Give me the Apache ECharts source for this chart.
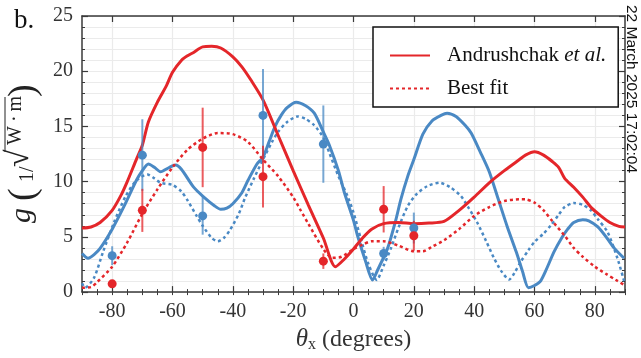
<!DOCTYPE html>
<html><head><meta charset="utf-8">
<script src="https://cdn.jsdelivr.net/npm/echarts@6/dist/echarts.min.js"></script>
<style>html,body{margin:0;padding:0;background:#fff}#c{width:641px;height:358px}</style>
</head><body><div id="c"></div>
<script>
// ---- data ----
const xTickLabels = [-80, -60, -40, -20, 0, 20, 40, 60, 80];
const yTickLabels = [0, 5, 10, 15, 20, 25];

const andrRedX = [-90,-87,-84,-80,-77,-75,-72,-70,-68,-65,-62,-60,-57,-55,-53,-50,-47,-44,-40,-37,-34,-30,-25,-20,-15,-10,-6,-3,0,3,6,10,15,20,25,30,35,40,45,50,55,57,60,63,66,68,70,73,76,79,82,85,88,90];
const andrRedY = [5.8,5.9,6.3,7.4,8.8,10.0,12.0,13.3,15.4,17.2,18.7,19.9,21.0,21.4,21.7,22.2,22.25,22.1,21.3,20.4,19.2,17.4,14.2,11.0,7.9,4.9,2.3,3.0,3.9,4.9,5.7,6.2,6.3,6.2,6.25,6.4,7.4,8.6,9.9,11.0,12.0,12.4,12.7,12.4,11.8,11.3,10.3,9.5,8.6,7.6,6.9,6.3,5.95,5.9];

const fitRedX = [-90,-87,-85,-80,-75,-70,-65,-60,-55,-50,-45,-40,-35,-30,-25,-20,-17.5,-15,-10,-7,-4,0,3,6,10,15,20,23,26,30,35,40,45,50,55,57,60,63,66,70,73,76,80,84,87,90];
const fitRedY = [0.4,0.45,0.9,2.3,4.5,7.1,9.3,11.3,12.9,13.9,14.4,14.3,13.6,12.0,10.5,8.6,7.4,6.2,3.9,3.1,3.2,3.9,4.3,4.6,4.6,4.2,3.7,3.7,4.1,4.7,5.7,6.9,7.7,8.25,8.4,8.4,8.1,7.4,6.4,5.1,4.0,3.2,2.3,1.6,1.1,0.6];

const andrBlueX = [-90,-88,-86,-84,-80,-76,-72,-70,-68,-66,-64,-61,-59,-57,-53,-50,-46,-44,-42,-40,-37,-35,-32,-30,-28,-26,-24,-22,-19,-16,-13,-10,-8,-5,-3,0,1.3,4,6.3,8,11.3,14,15.7,18,20,23,26,29,31,34,37,39,42,45,48,51,54,56,58,60,62,64,66.5,69,71,73,76,78,81,84,86.5,89.7];
const andrBlueY = [3.5,3.07,3.4,3.96,5.7,7.8,10.1,11.0,11.6,11.3,10.9,11.3,11.5,11.1,9.5,8.7,7.8,7.5,7.6,8.0,9.0,10.1,11.6,12.2,13.6,15.0,16.0,16.7,17.2,16.9,16.2,14.5,13.3,11.0,9.0,6.5,5.15,2.8,1.1,2.0,3.96,6.5,8.4,10.5,12.0,14.3,15.5,16.0,16.2,15.9,15.1,14.4,12.7,10.9,8.4,5.9,3.6,1.9,0.4,0.6,1.0,2.1,3.66,4.9,5.7,6.3,6.55,6.45,5.9,4.9,3.96,3.06];

const fitBlueX = [-90,-89,-86,-83,-79.4,-75.5,-72,-68.3,-66,-64,-60,-57,-55,-52,-50,-47,-45,-43,-41,-38,-36,-33,-30,-27,-25,-22,-18.5,-16,-13,-10,-8,-5,-2,0,2.4,5,7.7,10,12.4,15,18,21,24.5,28.5,32,35.6,38,41,44,46.6,49,51.6,53.5,55.5,58,60,63,65.4,68,70,73,76,78.7,81,84.2,87.5,89.7];
const fitBlueY = [0.8,0.4,1.3,3.66,6.3,8.7,10.1,10.65,10.3,9.9,9.7,9.1,8.3,6.9,6.0,4.9,4.6,4.9,5.6,7.1,8.5,10.3,12.0,13.6,14.5,15.4,15.9,15.7,15.1,14.0,12.6,10.5,8.7,7.2,4.85,2.5,1.1,2.4,3.96,5.9,7.8,8.9,9.6,9.9,9.5,8.7,7.7,6.3,4.6,3.06,1.9,1.13,1.8,2.77,3.8,4.55,5.3,6.04,7.0,7.7,8.06,7.9,7.4,6.6,5.45,3.06,1.0];

const blueX = [-80, -70, -50, -30, -10, 10, 20];
const blueY = [3.3, 12.4, 6.9, 16.0, 13.4, 3.5, 5.8];
const blueErr = [0.85, 3.25, 1.7, 4.2, 3.5, 0.6, 1.4];

const redX = [-80, -70, -50, -30, -10, 10, 20];
const redY = [0.75, 7.4, 13.1, 10.45, 2.8, 7.5, 5.1];
const redErr = [0, 1.95, 3.6, 2.8, 0.7, 2.1, 1.35];

const legendNames = ['Andrushchak et al.', 'Best fit'];
const timeStamp = '22 March 2025 17:02:04';

// ---- styles ----
const RED = '#e4262a';
const BLUE = '#4a89c4';
const SERIF = '"Liberation Serif", "DejaVu Serif", serif';
const AXIS = '#3a3a3a';
const GRIDC = '#ebebeb';

const zip = (xs, ys) => xs.map((x, i) => [x, ys[i]]);
const errData = (xs, ys, es) => xs.map((x, i) => [x, ys[i] - es[i], ys[i] + es[i]]);

function errSeries(xs, ys, es, color) {
  return {
    type: 'custom', xAxisIndex: 0, yAxisIndex: 0, z: 4,
    data: errData(xs, ys, es),
    renderItem: function (params, api) {
      const a = api.coord([api.value(0), api.value(1)]);
      const b = api.coord([api.value(0), api.value(2)]);
      return { type: 'line', shape: { x1: a[0], y1: a[1], x2: b[0], y2: b[1] },
        style: { stroke: color, lineWidth: 2, opacity: 0.75 } };
    }
  };
}

function lineSeries(name, xs, ys, color, dotted) {
  return {
    name: name, type: 'line', xAxisIndex: 0, yAxisIndex: 0, data: zip(xs, ys),
    symbol: 'none', smooth: 0.25, z: 3, animation: false,
    lineStyle: { color: color, width: dotted ? 2.5 : 3, type: dotted ? [3, 3] : 'solid' },
    itemStyle: { color: color }
  };
}

const xBase = { type: 'value', min: -90, max: 90, interval: 5 };
const yBase = { type: 'value', min: 0, max: 25, interval: 5 };

const option = {
  animation: false,
  grid: { left: 82, right: 16, top: 16, bottom: 62 },
  legend: {
    data: legendNames, orient: 'vertical', left: 373, top: 27,
    backgroundColor: '#fff', borderColor: '#111', borderWidth: 1.5, borderRadius: 0,
    padding: [18, 12, 8, 16], itemWidth: 40, itemHeight: 20, itemGap: 12,
    itemStyle: { opacity: 0 },
    textStyle: { fontFamily: SERIF, fontSize: 21, color: '#111', padding: [0, 0, 0, 12],
      rich: { n: { fontFamily: SERIF, fontSize: 21, color: '#111' },
              i: { fontFamily: SERIF, fontSize: 21, fontStyle: 'italic', color: '#111' } } },
    formatter: function (name) {
      if (name === legendNames[0]) return '{n|Andrushchak }{i|et al.}';
      return '{n|' + name + '}';
    }
  },
  xAxis: [
    Object.assign({}, xBase, {
      position: 'bottom',
      axisLine: { show: true, onZero: false, lineStyle: { color: AXIS, width: 1.5 } },
      axisTick: { show: true, inside: true, length: 6, customValues: xTickLabels, lineStyle: { color: AXIS, width: 1.2 } },
      axisLabel: { customValues: xTickLabels, fontFamily: SERIF, fontSize: 20, color: '#333', margin: 10 },
      splitLine: { show: true, lineStyle: { color: GRIDC, width: 1.2 } },
      name: '{t|θ}{s|x}{n| (degrees)}', nameLocation: 'middle', nameGap: 32,
      nameTextStyle: { fontFamily: SERIF, fontSize: 24, color: '#333',
        rich: { t: { fontFamily: SERIF, fontSize: 25, fontStyle: 'italic', color: '#333' },
                s: { fontFamily: SERIF, fontSize: 16, color: '#333', padding: [11, 0, 0, 0] },
                n: { fontFamily: SERIF, fontSize: 24, color: '#333' } } }
    }),
    Object.assign({}, xBase, {
      position: 'bottom', axisLine: { show: false }, axisLabel: { show: false }, splitLine: { show: false },
      axisTick: { show: true, inside: true, length: 3, lineStyle: { color: AXIS, width: 1 } }
    }),
    Object.assign({}, xBase, {
      position: 'top', axisLabel: { show: false }, splitLine: { show: false },
      axisLine: { show: true, onZero: false, lineStyle: { color: AXIS, width: 1.5 } },
      axisTick: { show: true, inside: true, length: 6, customValues: xTickLabels, lineStyle: { color: AXIS, width: 1.2 } }
    }),
    Object.assign({}, xBase, {
      position: 'top', axisLine: { show: false }, axisLabel: { show: false }, splitLine: { show: false },
      axisTick: { show: true, inside: true, length: 3, lineStyle: { color: AXIS, width: 1 } }
    })
  ],
  yAxis: [
    Object.assign({}, yBase, {
      position: 'left',
      axisLine: { show: true, onZero: false, lineStyle: { color: AXIS, width: 1.5 } },
      axisTick: { show: true, inside: true, length: 6, lineStyle: { color: AXIS, width: 1.2 } },
      minorTick: { show: true, splitNumber: 5, length: 3, lineStyle: { color: AXIS, width: 1 } },
      axisLabel: { fontFamily: SERIF, fontSize: 20, color: '#333', margin: 9,
        formatter: v => (yTickLabels.indexOf(v) >= 0 ? String(v) : '') },
      splitLine: { show: true, lineStyle: { color: GRIDC, width: 1.2 } },
      minorSplitLine: { show: true, lineStyle: { color: GRIDC, width: 1.2 } }
    }),
    Object.assign({}, yBase, {
      position: 'right', axisLabel: { show: false }, splitLine: { show: false },
      axisLine: { show: true, onZero: false, lineStyle: { color: AXIS, width: 1.5 } },
      axisTick: { show: true, inside: true, length: 6, lineStyle: { color: AXIS, width: 1.2 } },
      minorTick: { show: true, splitNumber: 5, length: 3, lineStyle: { color: AXIS, width: 1 } }
    })
  ],
  series: [
    lineSeries('Blue Andrushchak', andrBlueX, andrBlueY, BLUE, false),
    lineSeries('Blue fit', fitBlueX, fitBlueY, BLUE, true),
    lineSeries(legendNames[0], andrRedX, andrRedY, RED, false),
    lineSeries(legendNames[1], fitRedX, fitRedY, RED, true),
    errSeries(blueX, blueY, blueErr, BLUE),
    errSeries(redX, redY, redErr, RED),
    { type: 'scatter', name: 'blue data', data: zip(blueX, blueY), symbolSize: 9, z: 5,
      itemStyle: { color: BLUE, opacity: 1 } },
    { type: 'scatter', name: 'red data', data: zip(redX, redY), symbolSize: 9, z: 5,
      itemStyle: { color: RED, opacity: 1 } }
  ],
  graphic: [
    { type: 'text', left: 14, top: 7, style: { text: 'b.', font: '27px ' + SERIF, fill: '#111' } },
    { type: 'text', x: 631, y: 5, rotation: -Math.PI / 2, z: 100,
      style: { text: timeStamp, font: '15.5px "Liberation Sans", Arial, sans-serif', fill: '#111',
        align: 'left', verticalAlign: 'middle' } },
    { type: 'group', x: 0, y: 223, rotation: Math.PI / 2, children: [
      { type: 'text', x: 0, y: 22, style: { text: 'g', font: 'italic 30px ' + SERIF, fill: '#222', verticalAlign: 'middle' } },
      { type: 'text', x: 22, y: 24, style: { text: '(', font: '38px ' + SERIF, fill: '#222', verticalAlign: 'middle' } },
      { type: 'text', x: 41, y: 28, style: { text: '1/', font: '20px ' + SERIF, fill: '#222', verticalAlign: 'middle' } },
      { type: 'text', x: 56, y: 20, style: { text: '√', font: '32px ' + SERIF, fill: '#222', verticalAlign: 'middle' } },
      { type: 'line', shape: { x1: 71, y1: 5, x2: 126, y2: 5 }, style: { stroke: '#222', lineWidth: 1 } },
      { type: 'text', x: 78, y: 16, style: { text: 'W\u2009·\u2009m', font: '20px ' + SERIF, fill: '#222', verticalAlign: 'middle' } },
      { type: 'text', x: 126, y: 24, style: { text: ')', font: '38px ' + SERIF, fill: '#222', verticalAlign: 'middle' } }
    ] }
  ]
};

const chart = echarts.init(document.getElementById('c'), null, { renderer: 'canvas' });
chart.setOption(option);
</script>
</body></html>
